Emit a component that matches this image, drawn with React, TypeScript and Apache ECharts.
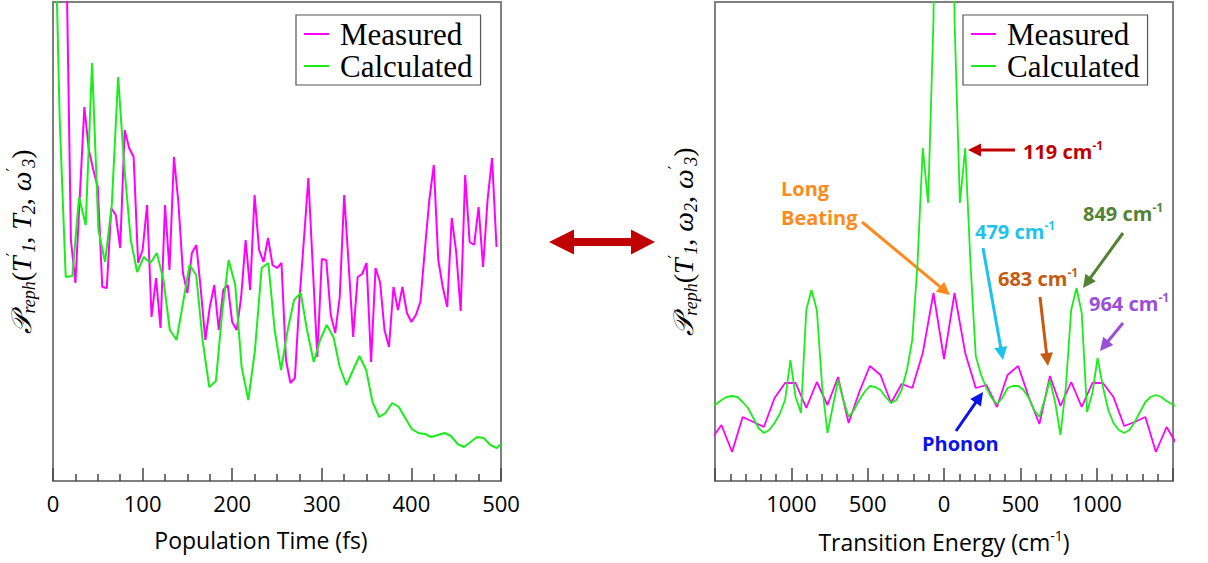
import React, { useEffect, useRef } from 'react';
import * as echarts from 'echarts';

// ---------- Left panel: population-time traces ----------
const measuredTime = [
  10, 15, 20, 25, 30, 35, 40, 45, 50, 55, 60, 65, 70, 75, 80, 85, 90, 95, 100, 105,
  110, 115, 120, 125, 130, 135, 140, 145, 150, 155, 160, 165, 170, 175, 180, 185, 190, 195, 200, 205,
  210, 215, 220, 225, 230, 235, 240, 245, 250, 255, 260, 265, 270, 275, 280, 285, 290, 295, 300, 305,
  310, 315, 320, 325, 330, 335, 340, 345, 350, 355, 360, 365, 370, 375, 380, 385, 390, 395, 400, 405,
  410, 415, 420, 425, 430, 435, 440, 445, 450, 455, 460, 465, 470, 475, 480, 485, 490, 495,
];
const measuredSignal = [
  881, 521, 241, 198, 286, 374, 331, 311, 294, 194, 193, 273, 266, 233, 351, 333, 324, 218, 231, 276,
  164, 203, 153, 276, 211, 324, 278, 208, 188, 228, 236, 191, 141, 174, 196, 151, 191, 196, 159, 151,
  184, 241, 191, 286, 231, 219, 243, 216, 213, 218, 121, 98, 103, 181, 241, 303, 213, 124, 222, 221,
  166, 148, 184, 286, 216, 144, 204, 207, 218, 119, 213, 199, 151, 134, 194, 171, 194, 168, 159, 166,
  179, 231, 281, 316, 221, 194, 174, 263, 229, 170, 306, 239, 236, 274, 214, 281, 323, 234,
];
const calculatedTime = [
  0, 7.5, 14.2, 21.6, 29.1, 36.5, 43.6, 50.7, 58.1, 65.6, 72.7, 79.4, 86.8, 93.9, 101.3, 108.8, 115.9,
  123.3, 130.4, 137.9, 145.3, 152.4, 159.8, 166.9, 174.4, 181.8, 188.9, 196, 203.4, 210.5, 218, 225.4,
  232.9, 240.3, 247.4, 254.5, 261.9, 269, 276.5, 283.5, 291, 298.1, 305.5, 313, 320, 327.5, 334.9, 342,
  349.5, 356.6, 364, 371.1, 378.5, 386, 393.1, 400.5, 407.6, 415.1, 422.1, 429.6, 437, 444.1, 451.6,
  458.6, 466.1, 473.2, 480.6, 488.1, 495.2, 500,
];
const calculatedSignal = [
  651, 361, 204, 205, 284, 256, 418, 251, 219, 276, 404, 316, 241, 209, 224, 218, 228,
  201, 151, 141, 179, 216, 206, 141, 94, 100, 169, 221, 196, 114, 81, 131,
  213, 218, 151, 111, 151, 181, 188, 151, 119, 141, 156, 144, 114, 96, 111, 125,
  111, 79, 64, 68, 78, 74, 63, 52, 48, 47, 44, 46, 48, 45, 37,
  34, 39, 44, 43, 36, 33, 37,
];

// ---------- Right panel: spectra ----------
const measuredEnergy = [
  -1527, -1458, -1388, -1319, -1249, -1180, -1110, -1041, -972, -902, -833, -763, -694, -625, -555,
  -486, -416, -347, -278, -208, -139, -69, 0, 69, 139, 208, 278, 347, 416, 486, 555, 625, 694, 763,
  833, 902, 972, 1041, 1110, 1180, 1249, 1319, 1388, 1458, 1527,
];
const measuredSpectrum = [
  41, 56, 29, 64, 59, 54, 83, 98, 98, 73, 99, 76, 104, 58, 89,
  115, 106, 78, 97, 93, 128, 188, 122, 188, 128, 93, 96, 74, 106, 115, 84, 57, 105, 75,
  99, 74, 98, 98, 84, 55, 59, 64, 29, 54, 36,
];
const calculatedEnergy = [
  -1527, -1492, -1457, -1423, -1388, -1353, -1319, -1284, -1249, -1215, -1180, -1145, -1110, -1076, -1041,
  -1006, -972, -937, -902, -868, -833, -798, -763, -729, -694, -659, -625, -590, -555, -521, -486, -451,
  -416, -382, -347, -312, -278, -243, -208, -174, -139, -104, -69, -35, 0, 35, 69, 104, 139, 174, 208,
  243, 278, 312, 347, 382, 416, 451, 486, 521, 555, 590, 625, 659, 694, 729, 763, 798, 833, 868, 902,
  937, 972, 1006, 1041, 1076, 1110, 1145, 1180, 1215, 1249, 1284, 1319, 1353, 1388, 1423, 1457, 1492, 1527,
];
const calculatedSpectrum = [
  74, 77, 81, 84, 85, 84, 79, 73, 63, 53,
  48, 51, 58, 67, 81, 121, 84, 68, 171, 191,
  171, 94, 48, 74, 101, 81, 64, 71, 81, 89,
  95, 94, 91, 84, 78, 81, 91, 111, 141, 216,
  333, 278, 461, 1100,
  1600,
  1100, 461, 278, 333, 216, 125, 106, 93, 83, 77,
  83, 93, 95, 95, 91, 83, 71, 64, 81, 101,
  78, 46, 94, 171, 193, 168, 69, 88, 123, 94,
  71, 58, 51, 48, 51, 59, 69, 79, 84, 86,
  84, 80, 77, 74,
];

const seriesNames = ['Measured', 'Calculated'];
const timeAxisTitle = 'Population Time (fs)';

const MAGENTA = '#ff00ff';
const GREEN = '#19ee19';
const FRAME = '#7f7f7f';
const SANS = 'Open Sans';

const pairs = (xs: number[], ys: number[]) => xs.map((x, i) => [x, ys[i]]);

function arrow(x1: number, y1: number, x2: number, y2: number, color: string) {
  const dx = x2 - x1;
  const dy = y2 - y1;
  const L = Math.hypot(dx, dy);
  const ux = dx / L;
  const uy = dy / L;
  const head = 13;
  const hw = 6.5;
  const bx = x2 - ux * head;
  const by = y2 - uy * head;
  return [
    { type: 'line', silent: true, shape: { x1, y1, x2: bx + ux * 1, y2: by + uy * 1 }, style: { stroke: color, lineWidth: 3 } },
    {
      type: 'polygon', silent: true,
      shape: { points: [[x2, y2], [bx - uy * hw, by + ux * hw], [bx + uy * hw, by - ux * hw]] },
      style: { fill: color },
    },
  ];
}

function label(x: number, y: number, main: string, sup: string | null, color: string) {
  return {
    type: 'text', silent: true, x, y,
    style: {
      text: sup ? `{a|${main}}{b|${sup}}` : `{a|${main}}`,
      verticalAlign: 'middle', align: 'left',
      rich: {
        a: { fontFamily: SANS, fontWeight: 'bold', fontSize: 20, fill: color, lineHeight: 24 },
        b: { fontFamily: SANS, fontWeight: 'bold', fontSize: 12, fill: color, lineHeight: 14, verticalAlign: 'top' },
      },
    },
  };
}

const yTitleRich = {
  P: { fontFamily: 'DejaVu Serif', fontStyle: 'italic', fontSize: 28, color: '#000', lineHeight: 34 },
  s: { fontFamily: 'Liberation Serif', fontStyle: 'italic', fontSize: 18, color: '#000', lineHeight: 18, verticalAlign: 'bottom' },
  i: { fontFamily: 'Liberation Serif', fontStyle: 'italic', fontSize: 28, color: '#000', lineHeight: 34 },
  n: { fontFamily: 'Liberation Serif', fontSize: 28, color: '#000', lineHeight: 34 },
  p: { fontFamily: 'DejaVu Serif', fontSize: 16, color: '#000', lineHeight: 20, verticalAlign: 'top' },
};

function yAxis(gridIndex: number, second: string) {
  return {
    gridIndex, type: 'value', min: 0, max: 479,
    axisLine: { show: true, onZero: false, lineStyle: { color: FRAME, width: 2 } },
    axisTick: { show: false }, axisLabel: { show: false }, splitLine: { show: false },
    name: `{P|𝒫}{s|reph}{n|(}{i|T}{p|′}{s|1}{n|, }${second}{n|, }{i|ω}{p|′}{s|3}{n|)}`,
    nameLocation: 'middle', nameRotate: 90, nameGap: 15,
    nameTextStyle: { rich: yTitleRich },
  };
}

const tickCommon = {
  axisLine: { show: true, onZero: false, lineStyle: { color: FRAME, width: 2 } },
  axisTick: { show: true, inside: true, length: 13, lineStyle: { color: '#444', width: 1.5 } },
  splitLine: { show: false },
  axisLabel: { color: '#000', fontFamily: SANS, fontSize: 22, margin: 11, showMinLabel: true, showMaxLabel: true },
};

function legend(left: number) {
  return {
    left, top: 15, orient: 'vertical', selectedMode: false,
    data: seriesNames,
    icon: 'rect',
    borderColor: '#555', borderWidth: 1.2,
    padding: [3, 8, 3, 8], itemGap: 0, itemWidth: 25, itemHeight: 2, itemTextGap: 13,
    textStyle: { fontFamily: 'Liberation Serif', fontSize: 31, color: '#000', lineHeight: 32, padding: [0, 0, 0, 6] },
  };
}

export default function App() {
  const ref = useRef<HTMLDivElement>(null);
  useEffect(() => {
    if (!ref.current) return;
    const chart = echarts.init(ref.current, null, { renderer: 'svg' });
    const graphic: any[] = [
      // double-headed arrow between the panels
      {
        type: 'polygon', silent: true,
        shape: {
          points: [[549, 242], [574, 229.5], [574, 238], [631, 238], [631, 229.5], [655, 242],
            [631, 254.5], [631, 246], [574, 246], [574, 254.5]],
        },
        style: { fill: '#c00000' },
      },
      ...arrow(1015, 150, 968, 150, '#c00000'),
      label(1023, 151, '119 cm', '-1', '#c00000'),
      ...arrow(862, 222, 950, 295, '#ff8a1c'),
      {
        type: 'text', silent: true, x: 781, y: 203,
        style: {
          text: 'Long\nBeating', fontFamily: SANS, fontWeight: 'bold', fontSize: 20, lineHeight: 29,
          fill: '#ff8a1c', verticalAlign: 'middle', align: 'left',
        },
      },
      ...arrow(983, 248, 1003, 360, '#1cc3ea'),
      label(975, 231, '479 cm', '-1', '#1cc3ea'),
      ...arrow(1040, 297, 1048, 366, '#c55a11'),
      label(998, 278, '683 cm', '-1', '#c55a11'),
      ...arrow(1123, 233, 1083, 288, '#548235'),
      label(1083, 213, '849 cm', '-1', '#548235'),
      ...arrow(1123, 323, 1100, 351, '#9a4fd8'),
      label(1089, 303, '964 cm', '-1', '#9a4fd8'),
      ...arrow(956, 431, 983, 392, '#0a14e6'),
      label(922, 443, 'Phonon', null, '#0a14e6'),
    ];

    const option: any = {
      animation: false,
      grid: [
        { left: 53, top: 2, width: 448, height: 479, show: true, borderColor: FRAME, borderWidth: 2, containLabel: false, outerBoundsMode: 'none' },
        { left: 715, top: 2, width: 458, height: 479, show: true, borderColor: FRAME, borderWidth: 2, containLabel: false, outerBoundsMode: 'none' },
      ],
      legend: [legend(296), legend(963)],
      xAxis: [
        {
          gridIndex: 0, type: 'value', min: 0, max: 500, interval: 100,
          ...tickCommon,
          minorTick: { show: true, splitNumber: 4, length: 7, lineStyle: { color: '#444', width: 1.5 } },
          minorSplitLine: { show: false },
          name: timeAxisTitle, nameLocation: 'middle', nameGap: 47,
          nameTextStyle: { fontFamily: SANS, fontSize: 23, color: '#000', padding: [0, 32, 0, 0] },
        },
        {
          gridIndex: 1, type: 'value', min: -1500, max: 1500, interval: 500,
          ...tickCommon,
          axisLabel: {
            ...tickCommon.axisLabel,
            formatter: (v: number) => (Math.abs(v) === 1500 ? '' : String(Math.abs(v))),
          },
          minorTick: { show: true, splitNumber: 5, length: 7, lineStyle: { color: '#444', width: 1.5 } },
          minorSplitLine: { show: false },
          name: '{t|Transition Energy (cm}{u|-1}{t|)}', nameLocation: 'middle', nameGap: 47,
          nameTextStyle: {
            rich: {
              t: { fontFamily: SANS, fontSize: 23, color: '#000', lineHeight: 27 },
              u: { fontFamily: SANS, fontSize: 14, color: '#000', lineHeight: 14, verticalAlign: 'top' },
            },
          },
        },
      ],
      yAxis: [yAxis(0, '{i|T}{s|2}'), yAxis(1, '{i|ω}{s|2}')],
      series: [
        {
          name: seriesNames[0], type: 'line', xAxisIndex: 0, yAxisIndex: 0, symbol: 'none',
          data: pairs(measuredTime, measuredSignal), lineStyle: { color: MAGENTA, width: 2 }, itemStyle: { color: MAGENTA },
        },
        {
          name: seriesNames[1], type: 'line', xAxisIndex: 0, yAxisIndex: 0, symbol: 'none',
          data: pairs(calculatedTime, calculatedSignal), lineStyle: { color: GREEN, width: 2 }, itemStyle: { color: GREEN },
        },
        {
          name: seriesNames[0], type: 'line', xAxisIndex: 1, yAxisIndex: 1, symbol: 'none',
          data: pairs(measuredEnergy, measuredSpectrum), lineStyle: { color: MAGENTA, width: 1.8 }, itemStyle: { color: MAGENTA },
        },
        {
          name: seriesNames[1], type: 'line', xAxisIndex: 1, yAxisIndex: 1, symbol: 'none',
          data: pairs(calculatedEnergy, calculatedSpectrum), lineStyle: { color: GREEN, width: 1.8 }, itemStyle: { color: GREEN },
        },
      ],
      graphic,
    };
    chart.setOption(option);
    return () => chart.dispose();
  }, []);
  return <div ref={ref} style={{ position: 'fixed', left: 0, top: 0, width: 1208, height: 563, background: '#fff' }} />;
}
